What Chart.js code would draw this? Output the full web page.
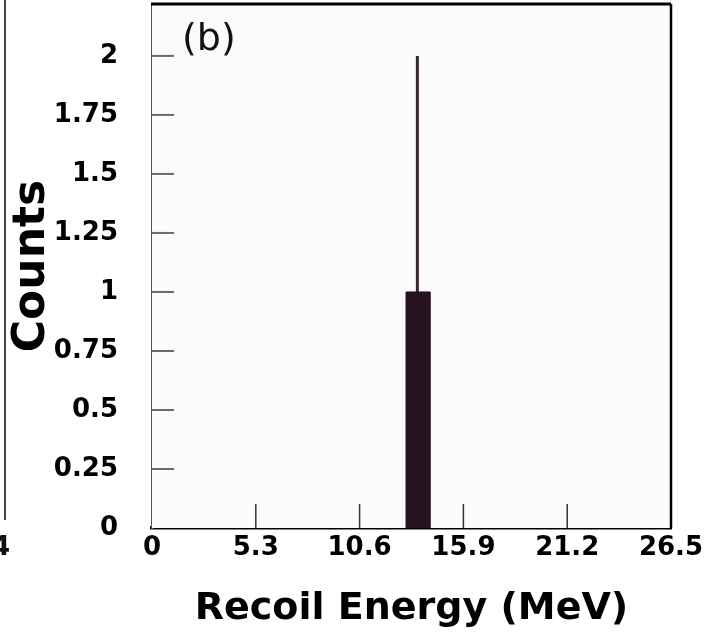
<!DOCTYPE html>
<html>
<head>
<meta charset="utf-8">
<script src="https://cdn.jsdelivr.net/npm/chart.js@4"></script>
<style>
  html, body { margin: 0; padding: 0; background: #fff; }
  #wrap { width: 724px; height: 636px; }
</style>
</head>
<body>
<div id="wrap"><canvas id="chartRecoil" width="724" height="636"></canvas></div>
<script>
const binEdges = [12.97, 14.19];     // MeV, borde del bin
const binCounts = [1];
const spikeEnergy = [13.55];
const spikeCounts = [2];
const xTicks = [0, 5.3, 10.6, 15.9, 21.2, 26.5];
const xTickLabels = ['0', '5.3', '10.6', '15.9', '21.2', '26.5'];
const yTicks = [0, 0.25, 0.5, 0.75, 1, 1.25, 1.5, 1.75, 2];
const yTickLabels = ['0', '0.25', '0.5', '0.75', '1', '1.25', '1.5', '1.75', '2'];

const FONT = 'DejaVu Sans';

// histograma en escalones
const histPoints = [];
for (let i = 0; i < binCounts.length; i++) {
  histPoints.push({ x: binEdges[i], y: 0 });
  histPoints.push({ x: binEdges[i], y: binCounts[i] });
  histPoints.push({ x: binEdges[i + 1], y: binCounts[i] });
  histPoints.push({ x: binEdges[i + 1], y: 0 });
}
const spikePoints = [];
spikeEnergy.forEach((e, i) => {
  spikePoints.push({ x: e, y: 0 });
  spikePoints.push({ x: e, y: spikeCounts[i] });
});

// marco, ticks hacia adentro, etiqueta (b) y resto del panel (a)
const framePlugin = {
  id: 'frame',
  beforeDatasetsDraw(chart) {
    const { ctx, chartArea: a } = chart;
    ctx.save();
    ctx.fillStyle = '#fbfbfc';
    ctx.fillRect(a.left, a.top, a.right - a.left, a.bottom - a.top);
    ctx.restore();
  },
  afterDraw(chart) {
    const { ctx, chartArea: a, scales } = chart;
    ctx.save();
    // ticks eje y
    ctx.strokeStyle = '#6a6a6a';
    ctx.lineWidth = 2;
    yTicks.forEach(v => {
      const py = scales.y.getPixelForValue(v);
      if (v === 0) return;
      ctx.beginPath();
      ctx.moveTo(a.left, py);
      ctx.lineTo(a.left + 22, py);
      ctx.stroke();
    });
    // ticks eje x
    ctx.strokeStyle = '#333';
    ctx.lineWidth = 1.5;
    xTicks.forEach(v => {
      if (v === 0 || v === 26.5) return;
      const px = scales.x.getPixelForValue(v);
      ctx.beginPath();
      ctx.moveTo(px, a.bottom);
      ctx.lineTo(px, a.bottom - 24);
      ctx.stroke();
    });
    // borde superior y derecho
    ctx.strokeStyle = '#000';
    ctx.lineWidth = 3;
    ctx.beginPath();
    ctx.moveTo(a.left - 1, a.top);
    ctx.lineTo(a.right, a.top);
    ctx.stroke();
    ctx.lineWidth = 2.5;
    ctx.beginPath();
    ctx.moveTo(a.right, a.top);
    ctx.lineTo(a.right, a.bottom);
    ctx.stroke();
    // (b)
    ctx.fillStyle = '#111';
    ctx.font = '38px ' + FONT;
    ctx.textBaseline = 'top';
    ctx.textAlign = 'left';
    ctx.fillText('(b)', a.left + 30, a.top + 17);
    // pedazo del panel (a)
    ctx.strokeStyle = '#444';
    ctx.lineWidth = 2;
    ctx.beginPath();
    ctx.moveTo(5, 0);
    ctx.lineTo(5, a.bottom - 8);
    ctx.stroke();
    ctx.font = 'bold 26px ' + FONT;
    ctx.textAlign = 'right';
    ctx.textBaseline = 'middle';
    ctx.fillText('4', 10, 548);
    ctx.restore();
  }
};

const ctx = document.getElementById('chartRecoil').getContext('2d');
new Chart(ctx, {
  type: 'scatter',
  data: {
    datasets: [
      {
        label: 'bin',
        data: histPoints,
        showLine: true,
        fill: 'origin',
        tension: 0,
        pointRadius: 0,
        borderWidth: 1,
        borderColor: '#26131f',
        backgroundColor: '#26131f'
      },
      {
        label: 'pico',
        data: spikePoints,
        showLine: true,
        fill: false,
        pointRadius: 0,
        borderWidth: 3,
        borderColor: '#3a2636'
      }
    ]
  },
  options: {
    responsive: false,
    animation: false,
    layout: { padding: { top: 4, right: 53, left: 0, bottom: 0 } },
    plugins: {
      legend: { display: false },
      tooltip: { enabled: false }
    },
    scales: {
      x: {
        type: 'linear',
        min: 0,
        max: 26.5,
        afterBuildTicks: s => { s.ticks = xTicks.map(v => ({ value: v })); },
        afterFit: s => { s.height = 108; s.paddingLeft = 0; s.paddingRight = 0; },
        ticks: {
          autoSkip: false,
          maxRotation: 0,
          padding: 5,
          color: '#000',
          font: { family: FONT, size: 26, weight: 'bold' },
          callback: (v) => xTickLabels[xTicks.indexOf(v)]
        },
        grid: { drawOnChartArea: false, drawTicks: false },
        border: { color: '#000', width: 3.5 },
        title: {
          display: true,
          text: 'Recoil Energy (MeV)',
          color: '#000',
          font: { family: FONT, size: 38, weight: 'bold' },
          padding: { top: 8, bottom: 4 }
        }
      },
      y: {
        type: 'linear',
        min: 0,
        max: 2.22,
        afterBuildTicks: s => { s.ticks = yTicks.map(v => ({ value: v })); },
        afterFit: s => { s.width = 152; s.paddingTop = 0; s.paddingBottom = 0; },
        ticks: {
          padding: 34,
          color: '#000',
          font: { family: FONT, size: 26, weight: 'bold' },
          callback: (v) => yTickLabels[yTicks.indexOf(v)]
        },
        grid: { drawOnChartArea: false, drawTicks: false },
        border: { color: '#555', width: 2.5 },
        title: {
          display: true,
          text: 'Counts',
          color: '#000',
          font: { family: FONT, size: 44, weight: 'bold' },
          padding: { top: 6, bottom: 4 }
        }
      }
    }
  },
  plugins: [framePlugin]
});
</script>
</body>
</html>
